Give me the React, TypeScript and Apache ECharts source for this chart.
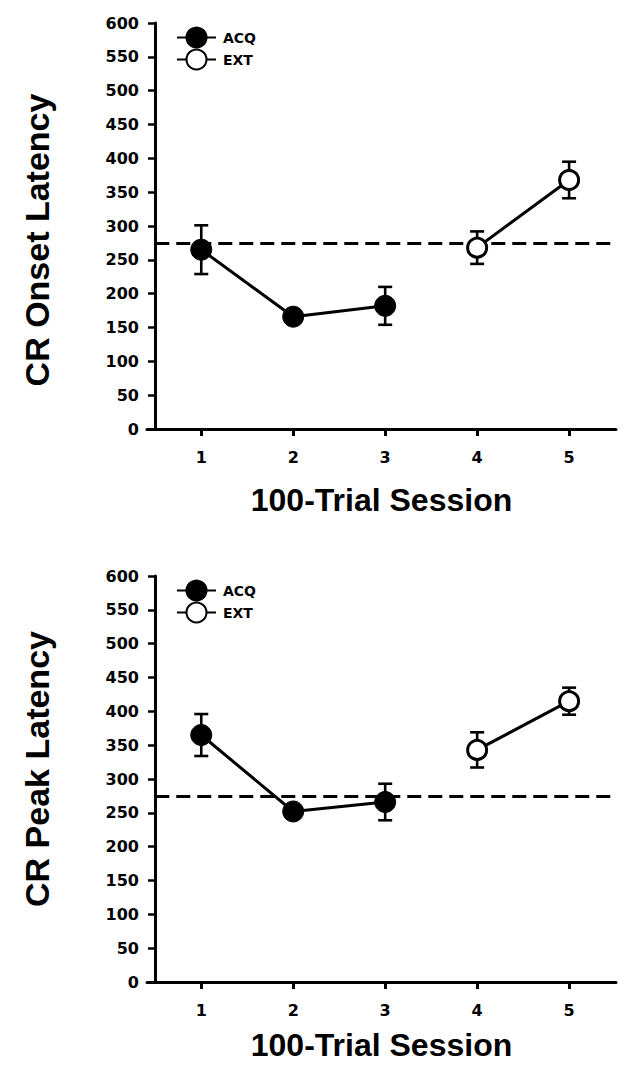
import React, { useEffect, useRef } from "react";
import * as echarts from "echarts";

const sessions = [1, 2, 3, 4, 5];
const acqSessions = [1, 2, 3];
const extSessions = [4, 5];
const onsetAcq = [265, 166, 182];
const onsetExt = [268, 368];
const onsetErr = [36, 6, 28, 24, 27];
const peakAcq = [365, 252, 266];
const peakExt = [343, 415];
const peakErr = [31, 6, 27, 26, 20];
const baseline = 275;
const yTitles = ["CR Onset Latency", "CR Peak Latency"];
const xTitle = "100-Trial Session";

const TICK_FONT = "DejaVu Sans";
const TITLE_FONT = "Liberation Sans";

function errRender(params: any, api: any) {
  const x = api.value(0);
  const y = api.value(1);
  const e = api.value(2);
  const top = api.coord([x, y + e]);
  const bot = api.coord([x, y - e]);
  const hw = 7;
  const st = { stroke: "#000", lineWidth: 2.6 };
  return {
    type: "group",
    children: [
      { type: "line", shape: { x1: top[0], y1: top[1], x2: bot[0], y2: bot[1] }, style: st },
      { type: "line", shape: { x1: top[0] - hw, y1: top[1], x2: top[0] + hw, y2: top[1] }, style: st },
      { type: "line", shape: { x1: bot[0] - hw, y1: bot[1], x2: bot[0] + hw, y2: bot[1] }, style: st },
    ],
  };
}

export default function App() {
  const ref = useRef<HTMLDivElement>(null);
  useEffect(() => {
    document.body.style.margin = "0";
    const chart = echarts.init(ref.current!, null, { renderer: "svg" });

    const panels = [
      { acq: onsetAcq, ext: onsetExt, err: onsetErr, top: 23, nameGap: 55, legendTop: 21.5, titleY: 240 },
      { acq: peakAcq, ext: peakExt, err: peakErr, top: 576, nameGap: 47, legendTop: 574.5, titleY: 769 },
    ];

    const grid: any[] = [];
    const xAxis: any[] = [];
    const yAxis: any[] = [];
    const series: any[] = [];
    const legend: any[] = [];
    const graphic: any[] = [];

    panels.forEach((p, i) => {
      grid.push({ left: 147, top: p.top, width: 469, height: 406 });
      xAxis.push({
        type: "value",
        gridIndex: i,
        min: 0.41,
        max: 5.51,
        name: xTitle,
        nameLocation: "middle",
        nameGap: p.nameGap,
        nameTextStyle: { fontFamily: TITLE_FONT, fontWeight: "bold", fontSize: 32, color: "#000" },
        axisLine: { show: true, onZero: false, lineStyle: { color: "#000", width: 3 } },
        axisTick: { show: true, length: 7, customValues: sessions, lineStyle: { color: "#000", width: 3 } },
        axisLabel: {
          customValues: sessions,
          margin: 20,
          fontFamily: TICK_FONT,
          fontWeight: "bold",
          fontSize: 16,
          color: "#000",
        },
        splitLine: { show: false },
      });
      yAxis.push({
        type: "value",
        gridIndex: i,
        min: 0,
        max: 600,
        interval: 50,
        offset: -8,
        axisLine: { show: true, onZero: false, lineStyle: { color: "#000", width: 3 } },
        axisTick: { show: true, length: 7, lineStyle: { color: "#000", width: 2.5 } },
        axisLabel: { margin: 16, fontFamily: TICK_FONT, fontWeight: "bold", fontSize: 16, color: "#000" },
        splitLine: { show: false },
      });
      series.push({
        type: "custom",
        xAxisIndex: i,
        yAxisIndex: i,
        z: 1,
        renderItem: errRender,
        data: sessions.map((s, k) => [s, k < 3 ? p.acq[k] : p.ext[k - 3], p.err[k]]),
        silent: true,
      });
      series.push({
        type: "line",
        name: "ACQ",
        xAxisIndex: i,
        yAxisIndex: i,
        z: 3,
        symbol: "circle",
        symbolSize: 21,
        itemStyle: { color: "#000", borderColor: "#000", borderWidth: 1 },
        lineStyle: { color: "#000", width: 3 },
        data: acqSessions.map((s, k) => [s, p.acq[k]]),
        markLine: {
          silent: true,
          symbol: ["none", "none"],
          label: { show: false },
          z: 2,
          lineStyle: { color: "#000", width: 3, type: [14, 7] },
          data: [[{ coord: [0.5, baseline] }, { coord: [5.51, baseline] }]],
        },
      });
      series.push({
        type: "line",
        name: "EXT",
        xAxisIndex: i,
        yAxisIndex: i,
        z: 3,
        symbol: "circle",
        symbolSize: 19,
        itemStyle: { color: "#fff", borderColor: "#000", borderWidth: 3 },
        lineStyle: { color: "#000", width: 3 },
        data: extSessions.map((s, k) => [s, p.ext[k]]),
      });
      legend.push({
        left: 171,
        top: p.legendTop,
        orient: "vertical",
        itemWidth: 39,
        itemHeight: 25,
        itemGap: 0,
        selectedMode: false,
        data: ["ACQ", "EXT"],
        textStyle: { fontFamily: TICK_FONT, fontWeight: "bold", fontSize: 14, color: "#000", padding: [0, 0, 0, 2] },
      });
      graphic.push({
        type: "text",
        x: 37,
        y: p.titleY,
        rotation: Math.PI / 2,
        style: {
          text: yTitles[i],
          fontFamily: TITLE_FONT,
          fontWeight: "bold",
          fontSize: 34,
          fill: "#000",
          align: "center",
          verticalAlign: "middle",
        },
      });
    });

    chart.setOption({
      animation: false,
      backgroundColor: "#fff",
      grid,
      xAxis,
      yAxis,
      series,
      legend,
      graphic,
    });
    return () => chart.dispose();
  }, []);
  return <div ref={ref} style={{ width: 633, height: 1076 }} />;
}
